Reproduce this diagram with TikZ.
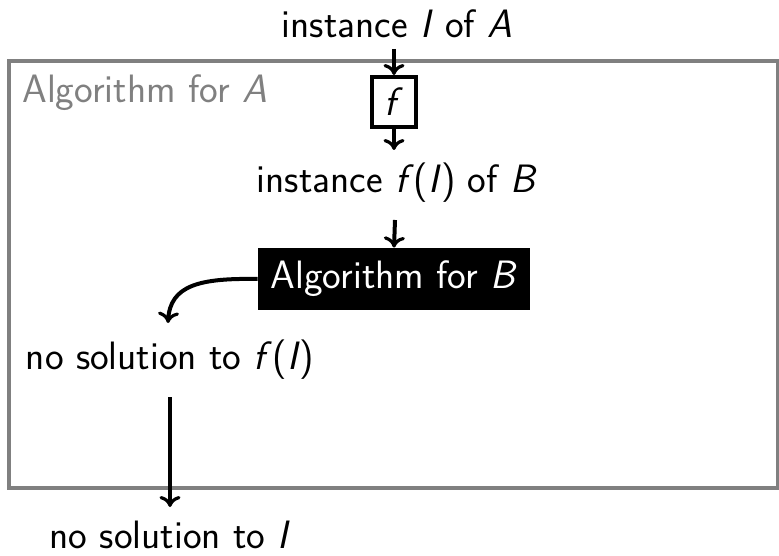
\documentclass[tikz,border=0pt]{standalone}
\usepackage{fontspec}
\usetikzlibrary{arrows.meta}
\newcommand{\vv}[1]{\textit{#1}}
\begin{document}
\begin{tikzpicture}[x=0.5pt,y=-0.5pt,
  every node/.style={font=\sffamily\fontsize{19.8}{23}\selectfont, inner sep=0pt},
  arr/.style={draw=black, line width=2pt, -{To[length=5.5pt,width=10.5pt,line width=1.6pt]}},
  frame/.style={draw=black!50, line width=1.9pt},
  fbox/.style={draw=black, line width=2pt, minimum width=22pt, minimum height=25pt},
  blackbox/.style={fill=black, text=white, minimum width=136pt, minimum height=31pt},
  lbl/.style={text=black}]
\useasboundingbox (0,0) rectangle (779,555);
\draw[frame] (9,61) rectangle (778,488);
\node[anchor=west, text=black!50] (algA) at (22,93) {Algorithm for \vv{A}};
\node[lbl] (inA) at (397,24) {instance \vv{I} of \vv{A}};
\node[fbox] (f) at (394,102) {\vv{f}};
\node[lbl] (inB) at (397,183) {instance \vv{f}(\vv{I}) of \vv{B}};
\node[blackbox] (algB) at (394,279) {Algorithm for \vv{B}};
\node[lbl] (noF) at (170,360) {no solution to \vv{f}(\vv{I})};
\node[lbl] (noI) at (170,535) {no solution to \vv{I}};
\coordinate (a1) at (394,49);
\coordinate (a2e) at (394,150);
\coordinate (a3) at (395,220);
\coordinate (c1) at (168,323);
\coordinate (d1) at (170,397);
\coordinate (d2) at (170,507);
\draw[arr] (a1) -- (f.north);
\draw[arr] (f.south) -- (a2e);
\draw[arr] (a3) -- (algB.north);
\draw[arr] (algB.west) .. controls (200,278) and (170,285) .. (c1);
\draw[arr] (d1) -- (d2);
\end{tikzpicture}
\end{document}
